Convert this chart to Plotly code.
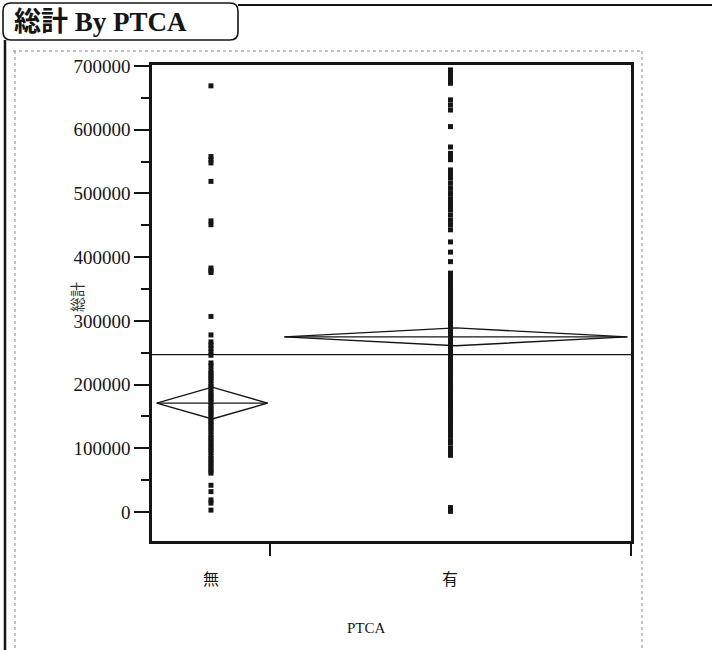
import plotly.graph_objects as go

# ---------------- data ----------------
categories = ["無", "有"]
group_n = [98, 300]                 # relative group sizes (x-axis widths)
group_means = [171000, 275000]
group_ci_half = [25000, 14000]
grand_mean = 247000

values_nashi = [669000, 558000, 553000, 548000, 519000, 457000, 451000, 383000, 379000, 376000,
                307000, 278000, 267000, 262000, 257000, 251000, 246000, 234000, 229000, 222000,
                218000, 214000, 210000, 206000, 201000, 197000, 193000, 188000, 184000, 180000,
                176000, 172000, 167000, 163000, 159000, 155000, 151000, 146000, 142000, 138000,
                134000, 130000, 126000, 121000, 117000, 113000, 109000, 105000, 101000, 97000,
                93000, 88000, 84000, 80000, 76000, 72000, 68000, 64000, 61000, 42000,
                32000, 19000, 14000, 3000]

values_ari = [694000, 689000, 683000, 678000, 673000, 647000, 639000, 631000, 605000, 573000,
              563000, 558000, 553000, 537000, 531000, 524000, 516000, 508000, 500000, 492000,
              485000, 480000, 474000, 466000, 458000, 451000, 443000, 424000, 408000, 393000,
              375000, 370000, 366000, 361000, 357000, 352000, 347000, 343000, 338000, 334000,
              329000, 325000, 320000, 316000, 311000, 307000, 302000, 298000, 293000, 289000,
              284000, 280000, 275000, 271000, 266000, 262000, 257000, 253000, 248000, 244000,
              239000, 235000, 230000, 226000, 221000, 217000, 212000, 208000, 203000, 199000,
              194000, 190000, 185000, 181000, 176000, 172000, 167000, 163000, 158000, 154000,
              149000, 145000, 140000, 136000, 131000, 124000, 119000, 112000, 108000, 100000,
              95000, 89000, 7000, 1000]

y_ticks = [0, 100000, 200000, 300000, 400000, 500000, 600000, 700000]
y_range = [-45500, 701700]

# ---------------- layout geometry ----------------
W, H = 714, 650
L, R, T, B = 152, 631, 65, 541   # plot area in pixels


def px(x):
    return (x - L) / (R - L)


def py(y):
    return (B - y) / (B - T)


total = sum(group_n)
lefts = [0, group_n[0]]
rights = [group_n[0], total]
centers = [(a + b) / 2 for a, b in zip(lefts, rights)]
series = [values_nashi, values_ari]

INK = "#151515"
SERIF = "Liberation Serif, Noto Sans CJK JP"
CJK = "Noto Sans CJK JP, Liberation Serif"

fig = go.Figure()

# grand mean line
fig.add_trace(go.Scatter(x=[0, total], y=[grand_mean, grand_mean], mode="lines",
                         line=dict(color=INK, width=1.4), hoverinfo="skip", showlegend=False))

# means diamonds
for i in range(2):
    w = rights[i] - lefts[i]
    a = lefts[i] + 0.04 * w
    b = rights[i] - 0.01 * w if i == 1 else rights[i] - 0.02 * w
    c = (a + b) / 2
    m, h = group_means[i], group_ci_half[i]
    fig.add_trace(go.Scatter(x=[a, c, b, c, a], y=[m, m + h, m, m - h, m], mode="lines",
                             line=dict(color=INK, width=1.4), hoverinfo="skip", showlegend=False))
    fig.add_trace(go.Scatter(x=[a, b], y=[m, m], mode="lines",
                             line=dict(color=INK, width=1.4), hoverinfo="skip", showlegend=False))

# data points
for i in range(2):
    fig.add_trace(go.Scatter(x=[centers[i]] * len(series[i]), y=series[i], mode="markers",
                             marker=dict(symbol="square", size=5, color=INK, line=dict(width=0)),
                             name=categories[i], showlegend=False))

# category labels
annotations = []
for i in range(2):
    annotations.append(dict(x=centers[i], y=py(578), xref="x", yref="paper", text=categories[i],
                            showarrow=False, font=dict(family=CJK, size=16, color=INK),
                            xanchor="center", yanchor="middle"))
# x title
annotations.append(dict(x=px(366), y=py(628), xref="paper", yref="paper", text="PTCA",
                        showarrow=False, font=dict(family=SERIF, size=15, color=INK),
                        xanchor="center", yanchor="middle"))
# y title
annotations.append(dict(x=px(76), y=py(297), xref="paper", yref="paper", text="総計",
                        textangle=-90, showarrow=False, font=dict(family=CJK, size=15, color="#333"),
                        xanchor="center", yanchor="middle"))
# report title
annotations.append(dict(x=px(12), y=py(22), xref="paper", yref="paper",
                        text="<b>総計 By PTCA</b>", showarrow=False,
                        font=dict(family=SERIF, size=27, color=INK),
                        xanchor="left", yanchor="middle"))

# decorative report outline
r = 8
x0, y0, x1, y1 = 3, 3, 238, 40
title_box = (f"M {px(x0 + r)},{py(y0)} L {px(x1 - r)},{py(y0)} "
             f"Q {px(x1)},{py(y0)} {px(x1)},{py(y0 + r)} L {px(x1)},{py(y1 - r)} "
             f"Q {px(x1)},{py(y1)} {px(x1 - r)},{py(y1)} L {px(x0 + r)},{py(y1)} "
             f"Q {px(x0)},{py(y1)} {px(x0)},{py(y1 - r)} L {px(x0)},{py(y0 + r)} "
             f"Q {px(x0)},{py(y0)} {px(x0 + r)},{py(y0)} Z")
shapes = [
    dict(type="path", path=title_box, xref="paper", yref="paper",
         line=dict(color=INK, width=1.6)),
    dict(type="line", x0=px(238), x1=px(712), y0=py(5), y1=py(5), xref="paper", yref="paper",
         line=dict(color=INK, width=2)),
    dict(type="line", x0=px(5), x1=px(5), y0=py(40), y1=py(650), xref="paper", yref="paper",
         line=dict(color=INK, width=2.5)),
    dict(type="line", x0=px(13), x1=px(642), y0=py(51), y1=py(51), xref="paper", yref="paper",
         line=dict(color="#888", width=1, dash="dot")),
    dict(type="line", x0=px(15), x1=px(15), y0=py(51), y1=py(650), xref="paper", yref="paper",
         line=dict(color="#888", width=1, dash="dot")),
    dict(type="line", x0=px(642), x1=px(642), y0=py(51), y1=py(650), xref="paper", yref="paper",
         line=dict(color="#888", width=1, dash="dot")),
]

fig.update_layout(
    width=W, height=H,
    margin=dict(l=L, r=W - R, t=T, b=H - B, pad=0),
    paper_bgcolor="white", plot_bgcolor="white",
    annotations=annotations, shapes=shapes,
    showlegend=False,
    xaxis=dict(range=[0, total], showgrid=False, zeroline=False,
               showline=True, mirror=True, linecolor=INK, linewidth=2.5,
               tickmode="array", tickvals=[group_n[0], total], ticks="outside",
               ticklen=12, tickwidth=1.5, tickcolor=INK, showticklabels=False),
    yaxis=dict(range=y_range, showgrid=False, zeroline=False,
               showline=True, mirror=True, linecolor=INK, linewidth=2.5,
               tickmode="array", tickvals=y_ticks, ticktext=[str(v) for v in y_ticks],
               ticks="outside", ticklen=15, tickwidth=1.5, tickcolor=INK,
               tickfont=dict(family=SERIF, size=19, color=INK),
               minor=dict(tick0=0, dtick=50000, ticks="outside", ticklen=8,
                          tickwidth=1.5, tickcolor=INK, showgrid=False)),
)

fig.write_html("out.html", config={"displayModeBar": False},
               post_script="document.body.style.margin='0';document.body.style.overflow='hidden';")
